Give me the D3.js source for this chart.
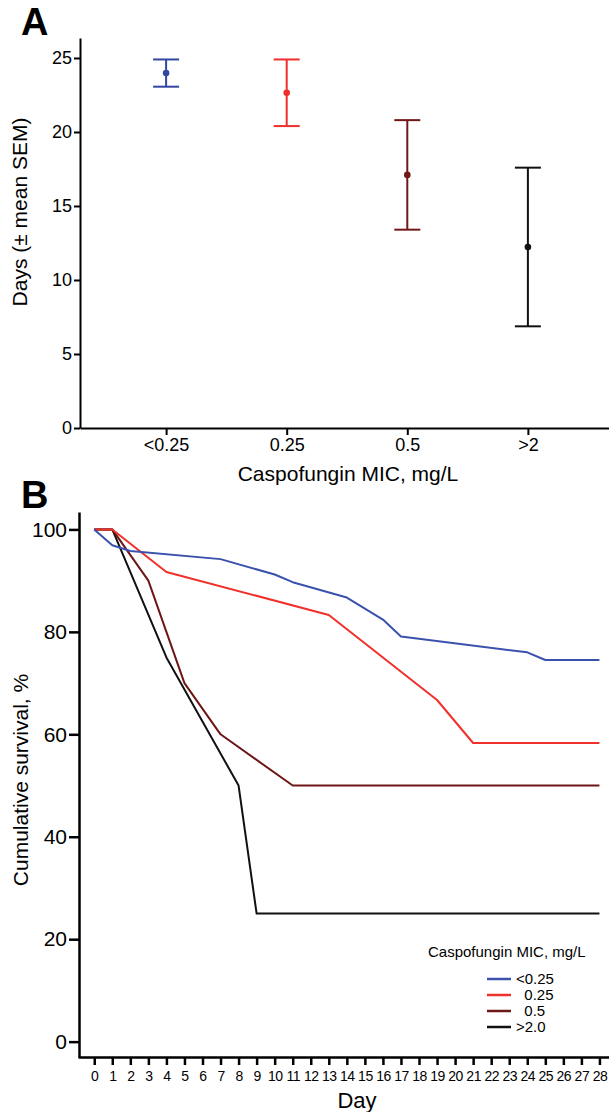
<!DOCTYPE html>
<html>
<head>
<meta charset="utf-8">
<script src="https://cdn.jsdelivr.net/npm/d3@7"></script>
<style>
  body { margin: 0; background: #fff; }
  svg { display: block; font-family: "Liberation Sans", Arial, Helvetica, sans-serif; }
  .axis path, .axis line { stroke: #000; }
  .axis text { fill: #000; }
</style>
</head>
<body>
<div id="chart"></div>
<script>

// panel A: mean days (+/- SEM) by MIC group
var micGroups = ["<0.25", "0.25", "0.5", ">2"]
var meanDays = [23.98, 22.65, 17.1, 12.23]
var semDays = [0.92, 2.25, 3.7, 5.36]
var groupColors = ["#3346a0", "#ee2f2b", "#701818", "#111111"]

// panel B: survival curves, vertices
var blueDays = [0, 1, 2, 7, 10, 11, 14, 16, 17, 24, 25, 28]
var blueSurv = [100, 96.9, 95.8, 94.2, 91.2, 89.7, 86.7, 82.4, 79.1, 76.0, 74.5, 74.5]
var redDays = [0, 1, 4, 13, 19, 21, 28]
var redSurv = [100, 100, 91.7, 83.3, 66.7, 58.3, 58.3]
var darkDays = [0, 1, 3, 4, 5, 7, 11, 28]
var darkSurv = [100, 100, 90, 80, 70, 60, 50, 50]
var blackDays = [0, 1, 4, 8, 9, 28]
var blackSurv = [100, 100, 75, 50, 25, 25]

var legendLabels = ["<0.25", "  0.25", "  0.5", ">2.0"]
var dayTicks = d3.range(0, 29)

function init() {

	var width = 609
	var height = 1112

	var svg = d3.select("#chart").append("svg")
		.attr("width", width)
		.attr("height", height)

	svg.append("rect").attr("width", width).attr("height", height).attr("fill", "#fff")

	// ---------- Panel A ----------
	var xA = d3.scalePoint()
		.domain(micGroups)
		.range([80, 614])
		.padding(0.714)

	var yA = d3.scaleLinear()
		.domain([0, 26.35])
		.range([428, 38])

	var gA = svg.append("g")

	gA.append("g")
		.attr("class", "axis")
		.attr("transform", "translate(80,0)")
		.call(d3.axisLeft(yA).tickValues([0, 5, 10, 15, 20, 25]).tickSize(6).tickPadding(2).tickSizeOuter(0))
		.call(g => g.selectAll("text").attr("font-size", 18))
		.call(g => g.selectAll("path, line").attr("stroke-width", 2))

	gA.append("g")
		.attr("class", "axis")
		.attr("transform", "translate(0,428)")
		.call(d3.axisBottom(xA).tickSize(7).tickPadding(3).tickSizeOuter(0))
		.call(g => g.selectAll("text").attr("font-size", 18))
		.call(g => g.selectAll("path, line").attr("stroke-width", 2))

	var rows = micGroups.map(function(d, i) {
		return { group: d, mean: meanDays[i], sem: semDays[i], color: groupColors[i] }
	})

	var bars = gA.selectAll(".errbar")
		.data(rows)
		.enter().append("g")
		.attr("class", "errbar")

	bars.append("line")
		.attr("x1", d => xA(d.group))
		.attr("x2", d => xA(d.group))
		.attr("y1", d => yA(d.mean + d.sem))
		.attr("y2", d => yA(d.mean - d.sem))
		.attr("stroke", d => d.color)
		.attr("stroke-width", 2)

	bars.append("line")
		.attr("x1", d => xA(d.group) - 13)
		.attr("x2", d => xA(d.group) + 13)
		.attr("y1", d => yA(d.mean + d.sem))
		.attr("y2", d => yA(d.mean + d.sem))
		.attr("stroke", d => d.color)
		.attr("stroke-width", 2)

	bars.append("line")
		.attr("x1", d => xA(d.group) - 13)
		.attr("x2", d => xA(d.group) + 13)
		.attr("y1", d => yA(d.mean - d.sem))
		.attr("y2", d => yA(d.mean - d.sem))
		.attr("stroke", d => d.color)
		.attr("stroke-width", 2)

	bars.append("circle")
		.attr("cx", d => xA(d.group))
		.attr("cy", d => yA(d.mean))
		.attr("r", 3.3)
		.attr("fill", d => d.color)

	gA.append("text")
		.attr("transform", "rotate(-90)")
		.attr("x", -212)
		.attr("y", 27)
		.attr("text-anchor", "middle")
		.attr("font-size", 21)
		.text("Days (± mean SEM)")

	gA.append("text")
		.attr("x", 348)
		.attr("y", 481)
		.attr("text-anchor", "middle")
		.attr("font-size", 21)
		.text("Caspofungin MIC, mg/L")

	gA.append("text")
		.attr("x", 21)
		.attr("y", 35)
		.attr("font-size", 38)
		.attr("font-weight", "bold")
		.text("A")

	// ---------- Panel B ----------
	var xB = d3.scaleLinear()
		.domain([-0.9, 28.53])
		.range([78, 609])

	var yB = d3.scaleLinear()
		.domain([-3, 103.4])
		.range([1057, 512])

	var gB = svg.append("g")

	gB.append("g")
		.attr("class", "axis")
		.attr("transform", "translate(79,0)")
		.call(d3.axisLeft(yB).tickValues([0, 20, 40, 60, 80, 100]).tickSize(10).tickPadding(2).tickSizeOuter(0))
		.call(g => g.selectAll("text").attr("font-size", 21))
		.call(g => g.selectAll("path, line").attr("stroke-width", 2.5))

	gB.append("g")
		.attr("class", "axis")
		.attr("transform", "translate(0,1057)")
		.call(d3.axisBottom(xB).tickValues(dayTicks).tickSize(8).tickPadding(6).tickSizeOuter(0))
		.call(g => g.selectAll("text").attr("font-size", 14).attr("letter-spacing", -0.5))
		.call(g => g.selectAll("path, line").attr("stroke-width", 2.5))

	var curves = [
		{ days: blueDays, surv: blueSurv, color: "#3a52ad" },
		{ days: redDays, surv: redSurv, color: "#f0302b" },
		{ days: darkDays, surv: darkSurv, color: "#6e1616" },
		{ days: blackDays, surv: blackSurv, color: "#111111" }
	]

	var line = d3.line()
		.x(d => xB(d[0]))
		.y(d => yB(d[1]))

	// draw back to front so blue sits on top like the original
	gB.selectAll(".curve")
		.data(curves.slice().reverse())
		.enter().append("path")
		.attr("class", "curve")
		.attr("fill", "none")
		.attr("stroke", d => d.color)
		.attr("stroke-width", 2)
		.attr("stroke-linejoin", "round")
		.attr("d", d => line(d.days.map((v, i) => [v, d.surv[i]])))

	gB.append("text")
		.attr("transform", "rotate(-90)")
		.attr("x", -780)
		.attr("y", 28)
		.attr("text-anchor", "middle")
		.attr("font-size", 21)
		.text("Cumulative survival, %")

	gB.append("text")
		.attr("x", 357)
		.attr("y", 1108)
		.attr("text-anchor", "middle")
		.attr("font-size", 22)
		.text("Day")

	gB.append("text")
		.attr("x", 21)
		.attr("y", 508)
		.attr("font-size", 38)
		.attr("font-weight", "bold")
		.text("B")

	// legend
	var legend = gB.append("g")

	legend.append("text")
		.attr("x", 428)
		.attr("y", 957)
		.attr("font-size", 15)
		.text("Caspofungin MIC, mg/L")

	var items = legend.selectAll(".item")
		.data(curves)
		.enter().append("g")
		.attr("class", "item")
		.attr("transform", (d, i) => "translate(487," + (979 + i * 16) + ")")

	items.append("line")
		.attr("x1", 0)
		.attr("x2", 24)
		.attr("stroke", d => d.color)
		.attr("stroke-width", 2.5)

	items.append("text")
		.attr("x", 29)
		.attr("dy", "0.36em")
		.attr("font-size", 15)
		.attr("xml:space", "preserve")
		.style("white-space", "pre")
		.text((d, i) => legendLabels[i])

} // end init

init()
</script>
</body>
</html>
